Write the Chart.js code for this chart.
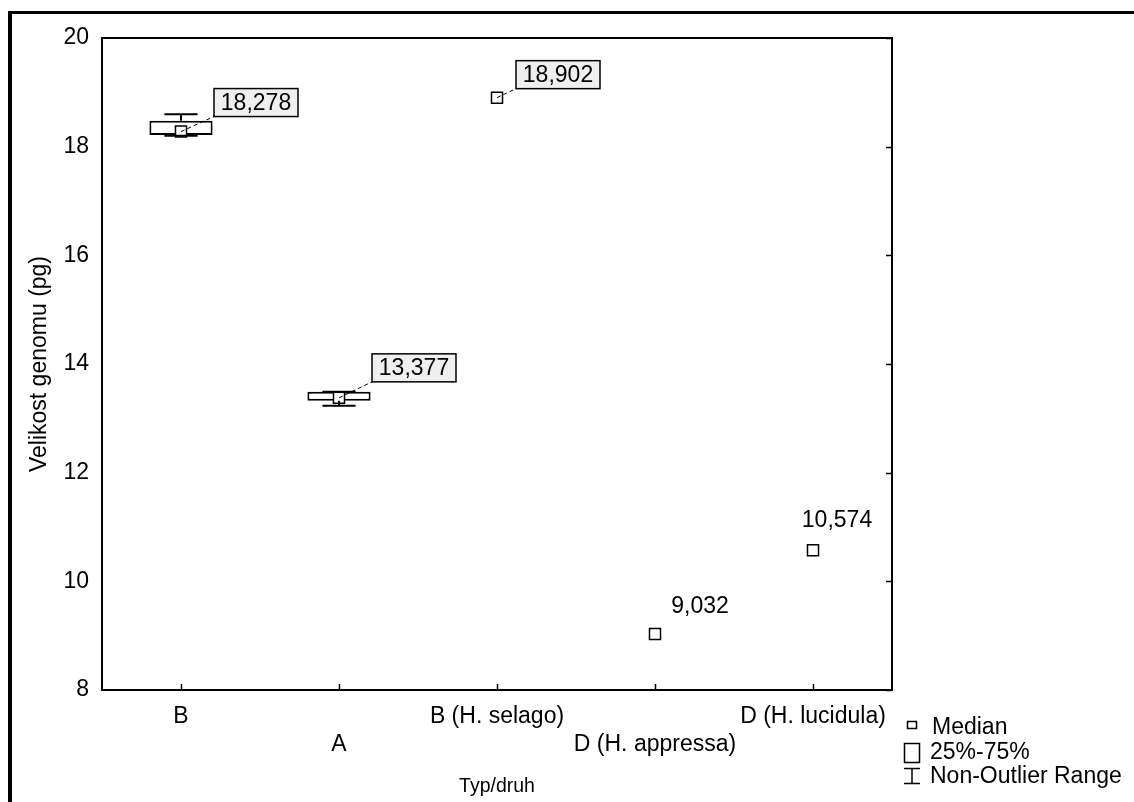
<!DOCTYPE html>
<html>
<head>
<meta charset="utf-8">
<script src="https://cdn.jsdelivr.net/npm/chart.js@4.4.1/dist/chart.umd.min.js"></script>
<style>
  html, body { margin: 0; padding: 0; background: #fff; }
  canvas { display: block; }
</style>
</head>
<body>
<canvas id="boxChart" width="1134" height="802"></canvas>
<script>
// data
const categories = ['B', 'A', 'B (H. selago)', 'D (H. appressa)', 'D (H. lucidula)'];
const medians = [18.278, 13.377, 18.902, 9.032, 10.574];
const q1Values = [18.215, 13.324, null, null, null];
const q3Values = [18.478, 13.49, null, null, null];
const minValues = [18.2, 13.232, null, null, null];
const maxValues = [18.596, 13.49, null, null, null];
const yTicks = [8, 10, 12, 14, 16, 18, 20];

const FONT = '"Liberation Sans", Arial, sans-serif';
const FONT_SIZE = 23;

// label placement next to each median (pixels)
const callouts = [
  { dx: 33, dy: -15, boxed: true },
  { dx: 33, dy: -16, boxed: true },
  { dx: 19, dy: -9, boxed: true },
  { dx: 45, dy: -27, boxed: false },
  { dx: 24, dy: -29, boxed: false }
];

function fmt(v) {
  return v.toFixed(3).replace('.', ',');
}

// white page + thick outer frame
const framePlugin = {
  id: 'frame',
  beforeDraw(chart) {
    const ctx = chart.ctx;
    ctx.save();
    ctx.fillStyle = '#fff';
    ctx.fillRect(0, 0, chart.width, chart.height);
    ctx.fillStyle = '#000';
    ctx.fillRect(8, 11, 4, chart.height - 11);
    ctx.fillRect(8, 11, chart.width - 8, 3);
    ctx.restore();
  }
};

// whiskers from the box edges to min / max
const whiskerPlugin = {
  id: 'whiskers',
  afterDatasetsDraw(chart) {
    const ctx = chart.ctx;
    const x = chart.scales.x;
    const y = chart.scales.y;
    const step = x.getPixelForValue(1) - x.getPixelForValue(0);
    ctx.save();
    ctx.strokeStyle = '#000';
    ctx.lineWidth = 2;
    categories.forEach((c, i) => {
      if (q1Values[i] == null) return;
      const px = x.getPixelForValue(i);
      const half = step * 0.105;
      const pairs = [[q3Values[i], maxValues[i]], [q1Values[i], minValues[i]]];
      pairs.forEach(([from, to]) => {
        const y1 = y.getPixelForValue(from);
        const y2 = y.getPixelForValue(to);
        ctx.beginPath();
        ctx.moveTo(px, y1);
        ctx.lineTo(px, y2);
        ctx.moveTo(px - half, y2);
        ctx.lineTo(px + half, y2);
        ctx.stroke();
      });
    });
    ctx.restore();
  }
};

// plot frame, inward ticks, value labels and the legend
const decorPlugin = {
  id: 'decor',
  afterDraw(chart) {
    const ctx = chart.ctx;
    const a = chart.chartArea;
    const x = chart.scales.x;
    const y = chart.scales.y;
    ctx.save();
    ctx.strokeStyle = '#000';
    ctx.lineWidth = 2;
    ctx.strokeRect(a.left, a.top, a.right - a.left, a.bottom - a.top);

    ctx.lineWidth = 1.5;
    ctx.beginPath();
    categories.forEach((c, i) => {
      const px = Math.round(x.getPixelForValue(i)) + 0.5;
      ctx.moveTo(px, a.bottom);
      ctx.lineTo(px, a.bottom - 6);
    });
    yTicks.forEach(v => {
      const py = Math.round(y.getPixelForValue(v)) + 0.5;
      ctx.moveTo(a.right, py);
      ctx.lineTo(a.right - 6, py);
    });
    ctx.stroke();

    // value labels
    ctx.font = FONT_SIZE + 'px ' + FONT;
    ctx.textAlign = 'center';
    ctx.textBaseline = 'middle';
    medians.forEach((m, i) => {
      const px = x.getPixelForValue(i);
      const py = y.getPixelForValue(m);
      const c = callouts[i];
      const text = fmt(m);
      if (c.boxed) {
        const w = 84, h = 28;
        const left = px + c.dx;
        const bottom = py + c.dy;
        ctx.lineWidth = 1;
        ctx.setLineDash([4, 3]);
        ctx.beginPath();
        ctx.moveTo(px, py);
        ctx.lineTo(left, bottom);
        ctx.stroke();
        ctx.setLineDash([]);
        ctx.fillStyle = '#efefef';
        ctx.fillRect(left, bottom - h, w, h);
        ctx.lineWidth = 1.5;
        ctx.strokeRect(left, bottom - h, w, h);
        ctx.fillStyle = '#000';
        ctx.fillText(text, left + w / 2, bottom - h / 2 + 1);
      } else {
        ctx.fillStyle = '#000';
        ctx.fillText(text, px + c.dx, py + c.dy);
      }
    });

    // legend
    ctx.textAlign = 'left';
    ctx.fillStyle = '#000';
    ctx.lineWidth = 1.5;
    ctx.strokeRect(907.5, 721.5, 9, 7);
    ctx.fillText('Median', 932, 728);
    ctx.strokeRect(904.5, 743.5, 15, 19);
    ctx.fillText('25%-75%', 930, 753);
    ctx.beginPath();
    ctx.moveTo(904, 768.5); ctx.lineTo(920, 768.5);
    ctx.moveTo(912, 768.5); ctx.lineTo(912, 783.5);
    ctx.moveTo(904, 783.5); ctx.lineTo(920, 783.5);
    ctx.stroke();
    ctx.fillText('Non-Outlier Range', 930, 777);
    ctx.restore();
  }
};

const ctx = document.getElementById('boxChart').getContext('2d');

new Chart(ctx, {
  data: {
    labels: categories,
    datasets: [
      {
        type: 'line',
        label: 'Median',
        data: medians,
        showLine: false,
        pointStyle: 'rect',
        pointRadius: 7.8,
        pointBorderWidth: 1.5,
        pointBackgroundColor: '#fff',
        pointBorderColor: '#000',
        order: 0
      },
      {
        type: 'bar',
        label: '25%-75%',
        data: q1Values.map((q, i) => q == null ? null : [q, q3Values[i]]),
        backgroundColor: '#fff',
        borderColor: '#000',
        borderWidth: 2,
        borderSkipped: false,
        barPercentage: 0.4,
        categoryPercentage: 1,
        order: 1
      }
    ]
  },
  options: {
    responsive: false,
    animation: false,
    layout: { padding: { left: 26, top: 38, right: 242, bottom: 0 } },
    plugins: {
      legend: { display: false },
      tooltip: { enabled: false }
    },
    scales: {
      x: {
        type: 'category',
        offset: true,
        grid: { display: false, drawTicks: false },
        border: { display: false },
        ticks: {
          autoSkip: false,
          maxRotation: 0,
          padding: 13,
          color: '#000',
          font: { family: FONT, size: FONT_SIZE, lineHeight: 1.22 },
          callback: function (value, index) {
            const label = this.getLabelForValue(value);
            return index % 2 ? ['', label] : label;
          }
        },
        title: {
          display: true,
          text: 'Typ/druh',
          color: '#000',
          font: { family: FONT, size: 19.5 },
          padding: { top: 0, bottom: 4 }
        },
        afterFit(scale) { scale.height = 112; }
      },
      y: {
        min: 8,
        max: 20,
        grid: { display: false, drawTicks: false },
        border: { display: false },
        afterBuildTicks(scale) { scale.ticks = yTicks.map(v => ({ value: v })); },
        ticks: {
          padding: 13,
          color: '#000',
          font: { family: FONT, size: FONT_SIZE }
        },
        title: {
          display: true,
          text: 'Velikost genomu (pg)',
          color: '#000',
          font: { family: FONT, size: FONT_SIZE },
          padding: { top: 0, bottom: 0 }
        },
        afterFit(scale) { scale.width = 76; }
      }
    }
  },
  plugins: [framePlugin, whiskerPlugin, decorPlugin]
});
</script>
</body>
</html>
